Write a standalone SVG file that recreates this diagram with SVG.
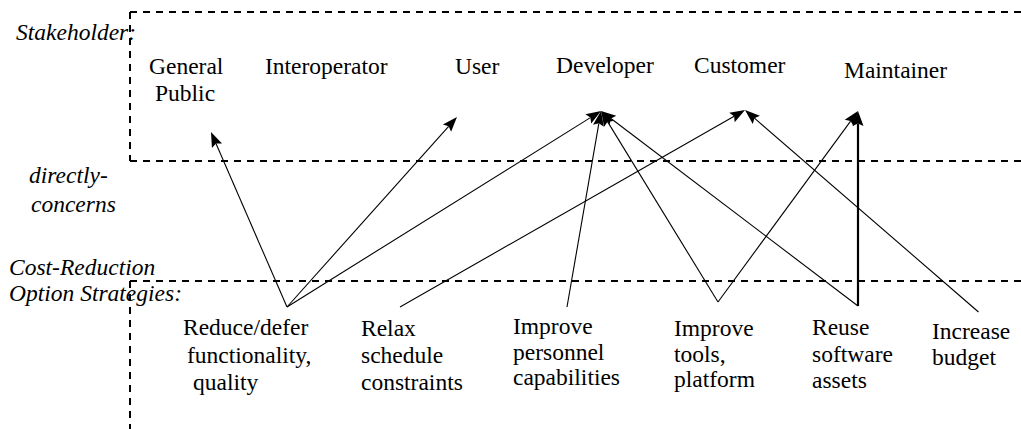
<svg xmlns="http://www.w3.org/2000/svg" width="1021" height="429" viewBox="0 0 1021 429">
  <style>
    text { font-size: 23.5px; fill: #000; }
    .t { font-family: 'Liberation Serif', serif; }
    .i { font-style: italic; }
    .dash { stroke: #000; stroke-width: 2; stroke-dasharray: 7 6; fill: none; }
    .edge { stroke: #000; stroke-width: 1.1; fill: none; }
    .thick { stroke-width: 2.2; }
    .head { fill: #000; stroke: none; }
  </style>
  <rect width="1021" height="429" fill="#fff"/>

  <g id="regions">
    <line class="dash" x1="130" y1="12" x2="1021" y2="12"/>
    <line class="dash" x1="130" y1="12" x2="130" y2="161"/>
    <line class="dash" x1="130" y1="161" x2="1021" y2="161"/>
    <line class="dash" x1="130" y1="281" x2="1021" y2="281"/>
    <line class="dash" x1="130" y1="281" x2="130" y2="429"/>
  </g>

  <g id="section-labels">
    <text class="t i" x="16" y="40">Stakeholder:</text>
    <text class="t i" x="29" y="183">directly-</text>
    <text class="t i" x="31" y="212">concerns</text>
    <text class="t i" x="9" y="275">Cost-Reduction</text>
    <text class="t i" x="9" y="301">Option Strategies:</text>
  </g>

  <g id="general-public"><text class="t" x="149" y="74">General</text><text class="t" x="155" y="101">Public</text></g>
  <g id="interoperator"><text class="t" x="265" y="74">Interoperator</text></g>
  <g id="user"><text class="t" x="455" y="74">User</text></g>
  <g id="developer"><text class="t" x="556" y="73">Developer</text></g>
  <g id="customer"><text class="t" x="694" y="73">Customer</text></g>
  <g id="maintainer"><text class="t" x="844" y="78">Maintainer</text></g>

  <g id="reduce-defer"><text class="t" x="183" y="335">Reduce/defer</text><text class="t" x="187" y="363">functionality,</text><text class="t" x="193" y="390">quality</text></g>
  <g id="relax-schedule"><text class="t" x="361" y="336">Relax</text><text class="t" x="361" y="363">schedule</text><text class="t" x="361" y="390">constraints</text></g>
  <g id="improve-personnel"><text class="t" x="513" y="334">Improve</text><text class="t" x="513" y="360">personnel</text><text class="t" x="513" y="385">capabilities</text></g>
  <g id="improve-tools"><text class="t" x="674" y="336">Improve</text><text class="t" x="674" y="362">tools,</text><text class="t" x="674" y="387">platform</text></g>
  <g id="reuse-assets"><text class="t" x="812" y="335">Reuse</text><text class="t" x="812" y="362">software</text><text class="t" x="812" y="388">assets</text></g>
  <g id="increase-budget"><text class="t" x="932" y="339">Increase</text><text class="t" x="932" y="365">budget</text></g>

  <g id="connectors">
    <line class="edge" x1="287" y1="307" x2="215.98" y2="143.47"/>
    <polygon class="head" points="211,132 222.02,143.57 215.98,143.47 211.93,147.95"/>
    <line class="edge" x1="287" y1="307" x2="448.67" y2="126.32"/>
    <polygon class="head" points="457,117 451.10,131.85 448.67,126.32 442.90,124.51"/>
    <line class="edge" x1="287" y1="307" x2="590.40" y2="117.62"/>
    <polygon class="head" points="601,111 591.19,123.61 590.40,117.62 585.36,114.28"/>
    <line class="edge" x1="400" y1="307" x2="734.15" y2="116.20"/>
    <polygon class="head" points="745,110 734.70,122.21 734.15,116.20 729.25,112.66"/>
    <line class="edge" x1="567" y1="307" x2="598.86" y2="123.32"/>
    <polygon class="head" points="601,111 603.86,126.72 598.86,123.32 593.02,124.84"/>
    <line class="edge" x1="718" y1="302" x2="607.53" y2="121.66"/>
    <polygon class="head" points="601,111 613.53,120.92 607.53,121.66 604.15,126.66"/>
    <line class="edge" x1="718" y1="302" x2="850.61" y2="121.08"/>
    <polygon class="head" points="858,111 853.57,126.35 850.61,121.08 844.70,119.85"/>
    <line class="edge" x1="858" y1="306" x2="610.96" y2="118.56"/>
    <polygon class="head" points="601,111 616.27,115.69 610.96,118.56 609.62,124.45"/>
    <line class="edge thick" x1="858" y1="306" x2="858" y2="123.5"/>
    <polygon class="head" points="858,111 863.5,126 858,123.5 852.5,126"/>
    <line class="edge" x1="978.5" y1="312" x2="754.45" y2="118.18"/>
    <polygon class="head" points="745,110 759.94,115.65 754.45,118.18 752.75,123.97"/>
  </g>
</svg>
